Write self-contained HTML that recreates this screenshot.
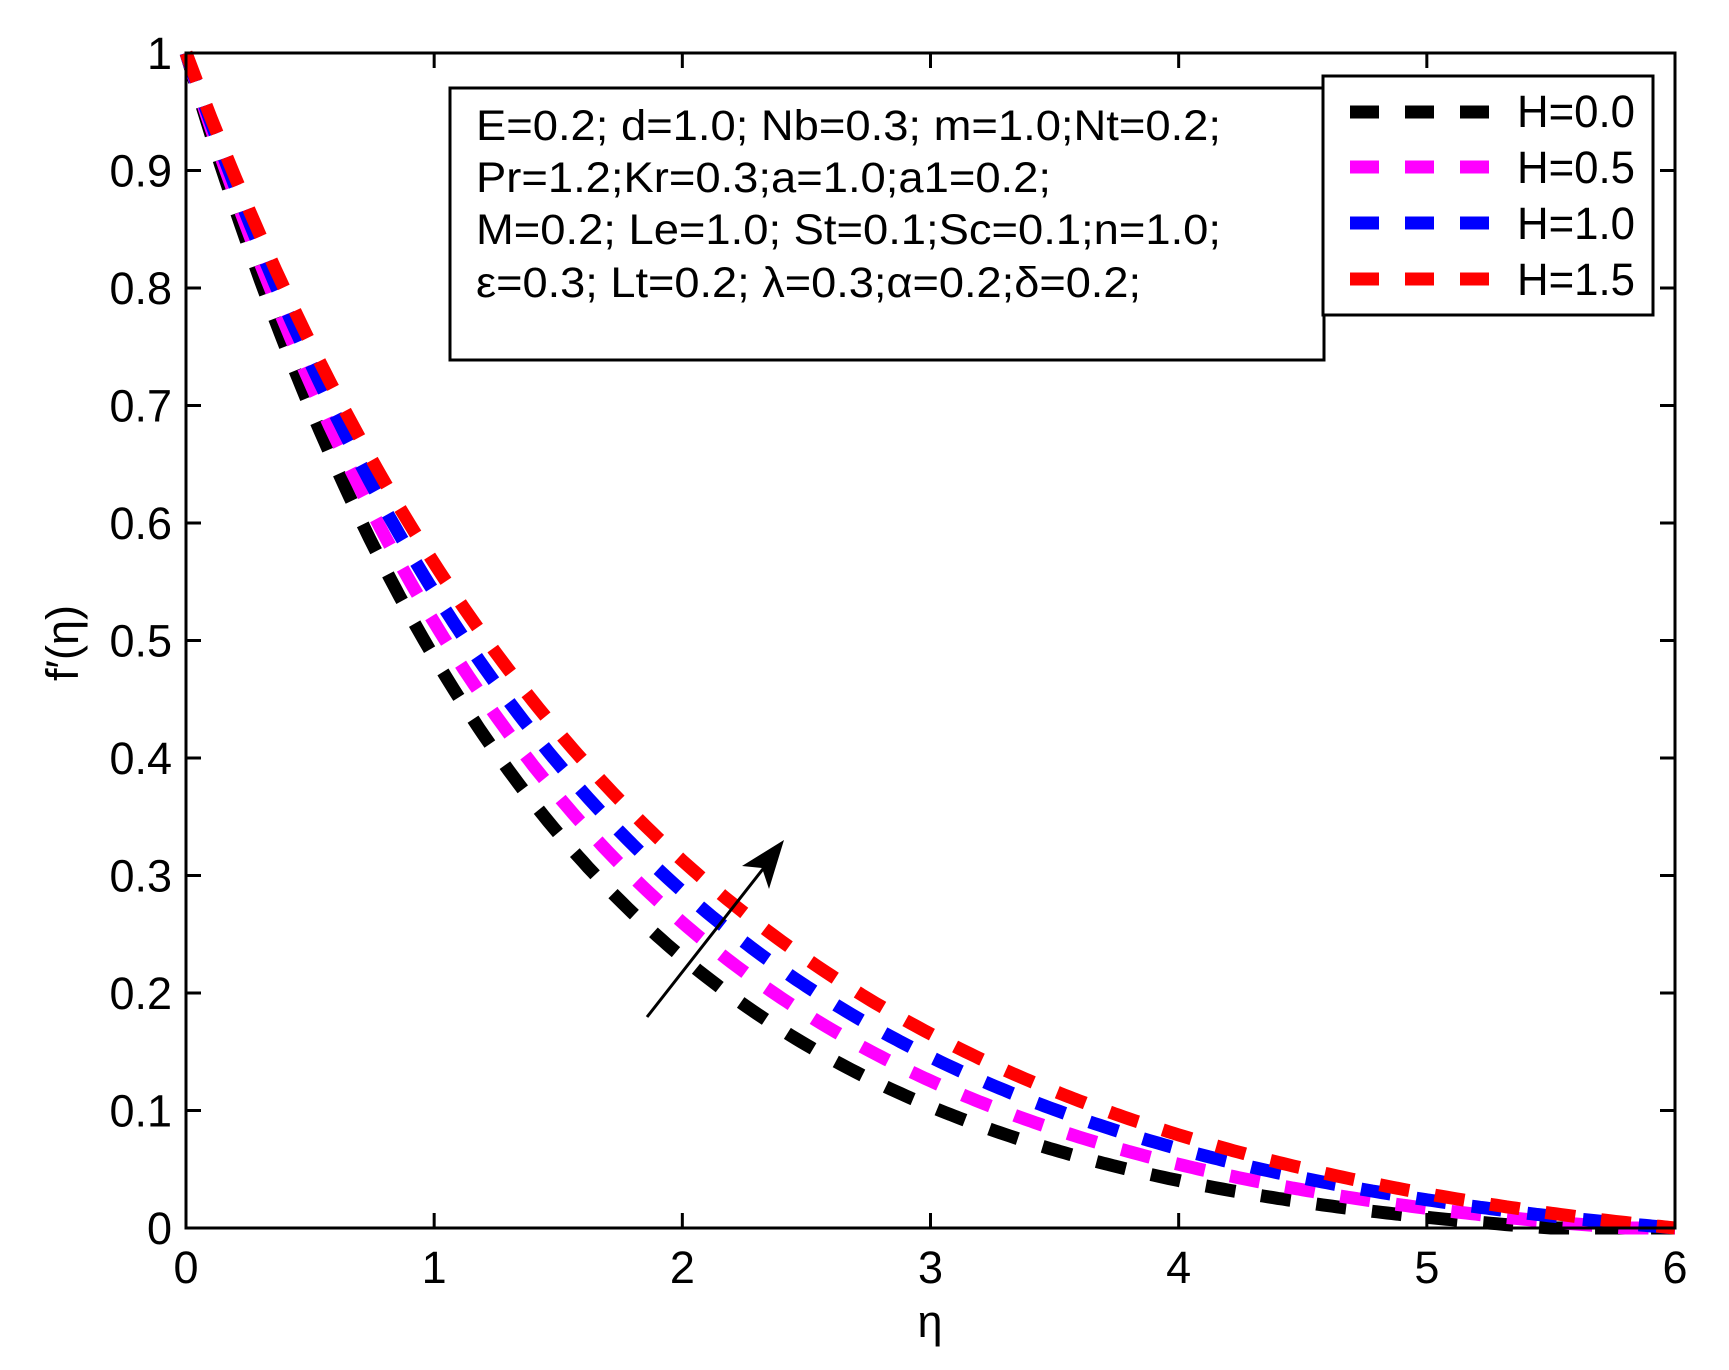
<!DOCTYPE html>
<html><head><meta charset="utf-8"><style>html,body{margin:0;padding:0;background:#fff}svg{display:block}</style></head>
<body>
<svg id="s" width="1729" height="1370" viewBox="0 0 1729 1370" xmlns="http://www.w3.org/2000/svg" font-family="Liberation Sans, Arial, sans-serif">
<rect width="1729" height="1370" fill="#fff"/>
<g id="curves" fill="none" stroke-width="13" stroke-dasharray="30 26"></g>
<g stroke="#000" stroke-width="3" fill="none">
<rect x="186" y="53" width="1489" height="1175"/>
</g>
<g id="ticks" stroke="#000" stroke-width="3"></g>
<g id="labels" font-size="45" fill="#000"></g>
<text x="930" y="1337" font-size="45" text-anchor="middle">η</text>
<text transform="translate(78,643) rotate(-90)" font-size="45" text-anchor="middle">f′(η)</text>
<line x1="647" y1="1017" x2="770" y2="860" stroke="#000" stroke-width="3"/>
<polygon points="784,840 769,889 762,868 742,866" fill="#000"/>
<rect x="450" y="88" width="874" height="272" fill="#fff" stroke="#000" stroke-width="3"/>
<g font-size="43" fill="#000">
<text x="476" y="140" textLength="745" lengthAdjust="spacingAndGlyphs">E=0.2; d=1.0; Nb=0.3; m=1.0;Nt=0.2;</text>
<text x="476" y="192" textLength="575" lengthAdjust="spacingAndGlyphs">Pr=1.2;Kr=0.3;a=1.0;a1=0.2;</text>
<text x="476" y="244" textLength="745" lengthAdjust="spacingAndGlyphs">M=0.2; Le=1.0; St=0.1;Sc=0.1;n=1.0;</text>
<text x="476" y="297" textLength="665" lengthAdjust="spacingAndGlyphs">ε=0.3; Lt=0.2; λ=0.3;α=0.2;δ=0.2;</text>
</g>
<rect x="1323" y="76" width="330" height="239" fill="#fff" stroke="#000" stroke-width="3"/>
<g stroke-width="13" stroke-dasharray="29 26">
<line x1="1350" y1="112" x2="1489" y2="112" stroke="#000"/>
<line x1="1350" y1="167" x2="1489" y2="167" stroke="#f0f"/>
<line x1="1350" y1="223" x2="1489" y2="223" stroke="#00f"/>
<line x1="1350" y1="279" x2="1489" y2="279" stroke="#f00"/>
</g>
<g font-size="45" fill="#000">
<text x="1517" y="127" textLength="118" lengthAdjust="spacingAndGlyphs">H=0.0</text>
<text x="1517" y="183" textLength="118" lengthAdjust="spacingAndGlyphs">H=0.5</text>
<text x="1517" y="239" textLength="118" lengthAdjust="spacingAndGlyphs">H=1.0</text>
<text x="1517" y="295" textLength="118" lengthAdjust="spacingAndGlyphs">H=1.5</text>
</g>
</svg>
<script>
(function(){
var NS="http://www.w3.org/2000/svg";
function X(e){return 186+e*1489/6;}
function Y(v){return 1228-v*1175;}
function el(t,a,p){var n=document.createElementNS(NS,t);for(var k in a)n.setAttribute(k,a[k]);p.appendChild(n);return n;}
var ticks=document.getElementById('ticks'),labels=document.getElementById('labels');
for(var i=0;i<=6;i++){var x=X(i);
 if(i>0&&i<6){el('line',{x1:x,y1:1228,x2:x,y2:1213},ticks);el('line',{x1:x,y1:53,x2:x,y2:68},ticks);}
 var t=el('text',{x:x,y:1283,'text-anchor':'middle'},labels);t.textContent=i;}
for(var j=0;j<=10;j++){var v=j/10,y=Y(v);
 if(j>0&&j<10){el('line',{x1:186,y1:y,x2:201,y2:y},ticks);el('line',{x1:1675,y1:y,x2:1660,y2:y},ticks);}
 var t=el('text',{x:172,y:y+16,'text-anchor':'end'},labels);t.textContent=(j==0?'0':(j==10?'1':v.toFixed(1)));}
var series=[['#000',0.70,5.5],['#f0f',0.64,5.8],['#00f',0.59,6],['#f00',0.54,6]];
var g=document.getElementById('curves');
series.forEach(function(s){var k=s[1],L=s[2],e0=Math.exp(-k*L),pts=[];
 for(var e=0;e<=L+1e-9;e+=0.02){var v=(Math.exp(-k*e)-e0)/(1-e0);pts.push(X(e).toFixed(1)+','+Y(v).toFixed(1));}
 if(L<6)pts.push(X(6).toFixed(1)+','+Y(0).toFixed(1));
 el('polyline',{points:pts.join(' '),stroke:s[0]},g);});
})();
</script>
</body></html>
